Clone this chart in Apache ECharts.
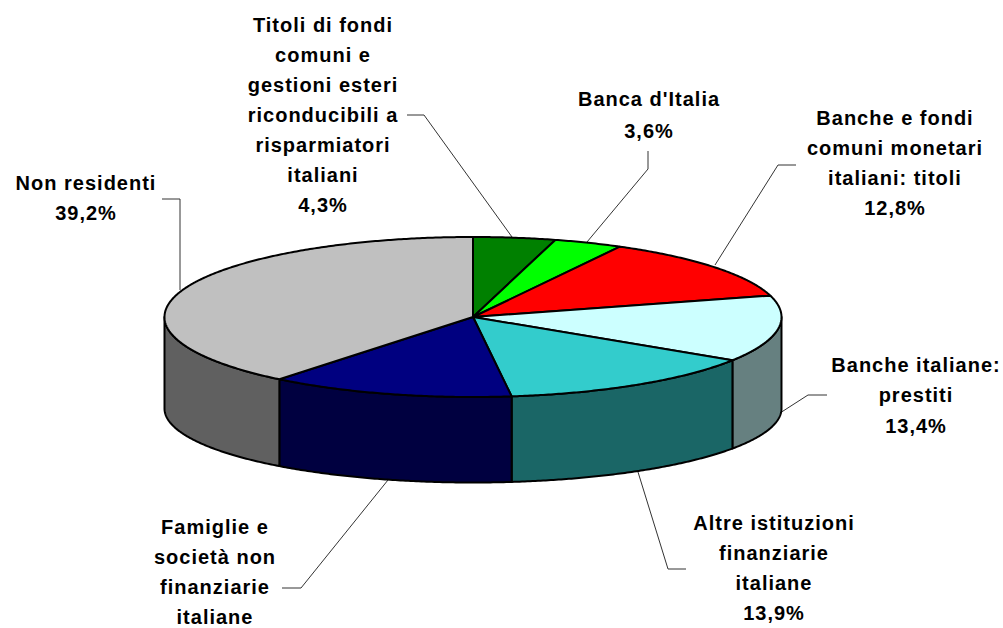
<!DOCTYPE html>
<html>
<head>
<meta charset="utf-8">
<style>html,body{margin:0;padding:0;background:#fff}#c{width:1003px;height:628px}#c text{letter-spacing:1px}</style>
<script src="https://cdn.jsdelivr.net/npm/echarts@6/dist/echarts.min.js"></script>
</head>
<body>
<div id="c"></div>
<script>
// --- data ---
const categories = [
  'Titoli di fondi\ncomuni e\ngestioni esteri\nriconducibili a\nrisparmiatori\nitaliani',
  "Banca d'Italia",
  'Banche e fondi\ncomuni monetari\nitaliani: titoli',
  'Banche italiane:\nprestiti',
  'Altre istituzioni\nfinanziarie\nitaliane',
  'Famiglie e\nsocietà non\nfinanziarie\nitaliane',
  'Non residenti'
];
const shares = [4.3, 3.6, 12.8, 13.4, 13.9, 12.8, 39.2];
const showShare = [true, true, true, true, true, false, true];

// --- styles and layout ---
const topColors = ['#008000', '#00ff00', '#ff0000', '#ccffff', '#33cccc', '#000080', '#c0c0c0'];
const sideColors = ['#004000', '#008000', '#800000', '#668080', '#1a6666', '#000040', '#606060'];
const pie = { cx: 473, cy: 317, rx: 308.5, ry: 80, bottomCy: 408.5, bottomRy: 74 };
const labelCenters = [[323, 115], [649, 115], [895, 163], [916, 395], [774, 568], [215, 572], [86, 197.5]];
const lineHeights = [29.9, 32, 30, 30.5, 30.3, 30, 30];
const leaders = [
  [[407, 115], [424, 115], [512, 237]],
  [[648, 151], [648, 169], [587, 242]],
  [[796, 165], [778, 165], [715, 265]],
  [[827, 395], [808, 395], [780, 413]],
  [[686, 569], [668, 569], [638, 472]],
  [[282, 588], [301, 588], [388, 480]],
  [[162, 199], [180, 199], [180, 290]]
];

const total = shares.reduce((a, b) => a + b, 0);
function sliceAngles(i) {
  let acc = 0;
  for (let k = 0; k < i; k++) acc += shares[k];
  return [acc / total * 360, (acc + shares[i]) / total * 360];
}
function rim(deg, lower) {
  const r = deg * Math.PI / 180;
  const cy = lower ? pie.bottomCy : pie.cy;
  const ry = lower ? pie.bottomRy : pie.ry;
  return [pie.cx + pie.rx * Math.sin(r), cy - ry * Math.cos(r)];
}
function arc(a, b, lower) {
  const pts = [];
  const n = Math.max(2, Math.ceil(Math.abs(b - a) * 2));
  for (let j = 0; j <= n; j++) pts.push(rim(a + (b - a) * j / n, lower));
  return pts;
}
const edgeStyle = { stroke: '#000', lineWidth: 2, lineJoin: 'round' };

function renderTop(params, api) {
  const i = api.value(0);
  const [a, b] = sliceAngles(i);
  return {
    type: 'polygon',
    shape: { points: [[pie.cx, pie.cy]].concat(arc(a, b)) },
    style: Object.assign({ fill: topColors[i] }, edgeStyle)
  };
}
function renderSide(params, api) {
  const i = api.value(0);
  const [a0, b0] = sliceAngles(i);
  const a = Math.max(a0, 90), b = Math.min(b0, 270);
  if (b <= a) return { type: 'group', children: [] };
  const pts = arc(a, b).concat(arc(b, a, true));
  return {
    type: 'polygon',
    shape: { points: pts },
    style: Object.assign({ fill: sideColors[i] }, edgeStyle)
  };
}
function renderLabel(params, api) {
  const i = api.value(0);
  const pct = shares[i].toFixed(1).replace('.', ',') + '%';
  const txt = categories[i] + (showShare[i] ? '\n' + pct : '');
  return {
    type: 'group',
    children: [
      {
        type: 'polyline',
        shape: { points: leaders[i] },
        style: { stroke: '#333', lineWidth: 1, fill: null }
      },
      {
        type: 'text',
        x: labelCenters[i][0],
        y: labelCenters[i][1],
        style: {
          text: txt,
          fill: '#000',
          font: 'bold 20px "Liberation Sans", Arial, sans-serif',
          lineHeight: lineHeights[i],
          align: 'center',
          verticalAlign: 'middle'
        }
      }
    ]
  };
}
const rows = shares.map((v, i) => [i, v]);
const chart = echarts.init(document.getElementById('c'), null, { renderer: 'svg' });
chart.setOption({
  animation: false,
  backgroundColor: '#fff',
  series: [
    { type: 'custom', coordinateSystem: 'none', silent: true, z: 2, data: rows, renderItem: renderLabel },
    { type: 'custom', coordinateSystem: 'none', silent: true, z: 3, data: rows, renderItem: renderSide },
    { type: 'custom', coordinateSystem: 'none', silent: true, z: 4, data: rows, renderItem: renderTop }
  ]
});
</script>
</body>
</html>
